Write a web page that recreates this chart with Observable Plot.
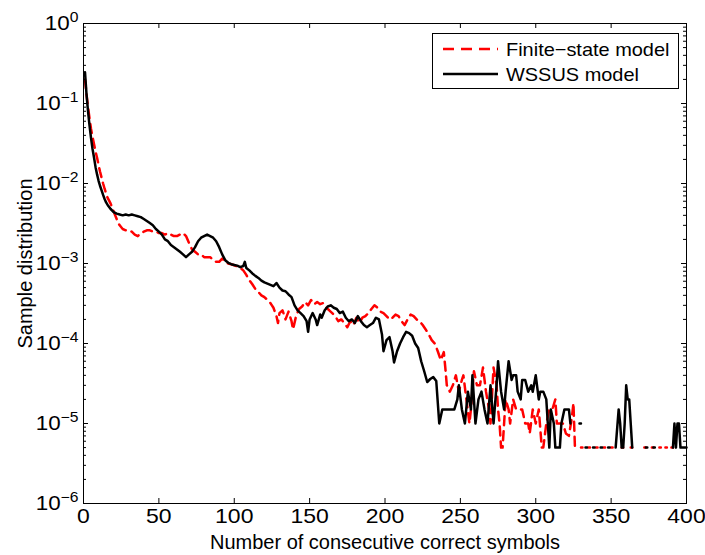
<!DOCTYPE html>
<html><head><meta charset="utf-8">
<script src="https://cdn.jsdelivr.net/npm/d3@7"></script>
<script src="https://cdn.jsdelivr.net/npm/@observablehq/plot@0.6"></script>
<style>body{margin:0;background:#fff}#chart{width:705px;height:555px}</style>
</head><body><div id="chart"></div>
<script>
// ---- data (x = number of consecutive correct symbols, y = sample distribution; null = zero / gap)
const wssus = [
[1,0.245],[2,0.13],[3,0.08],[4,0.053],[5,0.037],[6,0.027],[7,0.021],[8,0.016],[9,0.013],[10,0.0108],
[11,0.0093],[12,0.0082],[13,0.0072],[14,0.0064],[15,0.0058],[16,0.0054],[18,0.0048],[20,0.0044],[22,0.0042],[24,0.0041],
[26,0.0040],[28,0.0041],[30,0.0040],[32,0.0041],[34,0.0040],[36,0.0039],[38,0.0038],[40,0.0036],[42,0.0034],[44,0.0032],
[46,0.0030],[48,0.0027],[50,0.0025],[52,0.0023],[54,0.0020],[56,0.0019],[58,0.0017],[60,0.0016],[62,0.0015],[64,0.0014],
[66,0.0013],[68,0.0012],[70,0.0013],[72,0.0014],[74,0.0016],[76,0.0019],[78,0.0021],[80,0.0022],[82,0.0023],[84,0.0022],
[86,0.0021],[88,0.0019],[90,0.0016],[92,0.0013],[94,0.0011],[96,0.00102],[98,0.00098],[100,0.00096],[102,0.00094],[104,0.0009],
[106,0.00093],[107,0.00105],[108,0.00088],[110,0.00082],[112,0.00075],[114,0.0007],[116,0.00066],[118,0.00061],[120,0.00058],[122,0.00056],
[124,0.00054],[126,0.00052],[128,0.00057],[130,0.0005],[132,0.00046],[134,0.00045],[136,0.00041],[138,0.00038],[140,0.0003],[142,0.00026],
[144,0.00024],[146,0.00022],[148,0.00019],[149,0.00014],[150,0.0002],[152,0.00024],[154,0.0002],[155,0.00017],[157,0.00023],[158,0.00021],
[160,0.00026],[162,0.00029],[164,0.0003],[166,0.00028],[168,0.00027],[170,0.00024],[172,0.00025],[174,0.00021],[176,0.00019],[178,0.0002],
[180,0.00018],[182,0.00022],[184,0.00019],[186,0.00017],[188,0.00016],[190,0.00017],[192,0.00018],[194,0.00021],[196,0.0002],[198,0.00013],
[199,0.00008],[201,0.00011],[203,0.00012],[205,0.00008],[206,0.000058],[208,0.00008],[210,0.0001],[212,0.00012],[214,0.00014],[216,0.000135],
[218,0.000125],[220,0.0001],[222,0.000088],[224,0.00006],[226,0.000045],[228,0.000033],[230,0.000036],[232,0.000038],[234,0.000034],[236,0.00001],
[238,0.000015],[240,0.000015],[242,0.000015],[244,0.000015],[246,0.000015],[248,0.00002],[249,0.00003],[251,0.000015],[253,0.00001],[255,0.000025],
[257,0.000015],[258,0.00004],[260,0.00001],[262,0.00002],[264,0.000025],[266,0.000015],[268,0.00001],[270,0.00003],[272,0.00001],[274,0.00003],
[275,0.00006],[277,0.000025],[279,0.000015],[280,0.000025],[282,0.00006],[284,0.000035],[285,0.00004],[287,0.00004],[288,0.000025],[290,0.00002],
[291,0.000035],[293,0.000035],[295,0.000025],[297,0.00003],[298,0.000025],[300,0.00004],[302,0.00002],[303,0.000025],[305,0.000025],[307,0.00002],
[308,0.00001],[309,0.000005],[310,0.000015],[312,0.00001],[313,0.000005],[315,0.000005],[316,0.000005],[317,0.00001],[319,0.000015],[320,0.000015],
[322,0.000015],[323,0.00001],[324,null],[329,0.00001],[330,0.00001],[331,null],[333,0.000005],[334,0.000005],[335,null],[338,0.000005],
[339,0.000005],[340,null],[343,0.000005],[344,0.000005],[345,null],[348,0.000005],[349,0.000005],[350,null],[353,0.000005],[355,0.000015],
[356,0.00001],[357,0.000005],[358,0.000005],[359,0.00001],[360,0.00003],[361,0.00002],[362,0.00002],[363,0.00001],[364,0.000005],[365,null],
[373,0.000005],[374,0.000005],[375,null],[378,0.000005],[379,0.000005],[380,null],[391,0.000005],[392,0.00001],[393,0.000005],[394,0.00001],
[395,0.00001],[396,0.000005],[398,0.000005],[400,0.000005]
];
const finiteState = [
[1,0.2],[2,0.13],[3,0.09],[4,0.065],[5,0.048],[6,0.038],[7,0.031],[8,0.025],[9,0.021],[10,0.017],
[11,0.014],[12,0.0118],[13,0.01],[14,0.0086],[15,0.0075],[16,0.0066],[17,0.0061],[18,0.0056],[19,0.005],[20,0.0045],
[21,0.004],[22,0.0036],[23,0.0032],[24,0.003],[26,0.0027],[28,0.0026],[30,0.0026],[32,0.0025],[34,0.0023],[36,0.0022],
[38,0.0024],[40,0.0025],[42,0.0026],[44,0.0026],[46,0.0025],[48,0.0025],[50,0.0024],[52,0.0024],[54,0.0023],[56,0.0024],
[58,0.0023],[60,0.0022],[62,0.0022],[64,0.0023],[66,0.0024],[68,0.0022],[70,0.0018],[72,0.0015],[74,0.0014],[76,0.0013],
[78,0.0013],[80,0.0012],[82,0.0012],[84,0.0012],[86,0.0011],[88,0.00105],[90,0.00105],[92,0.00115],[94,0.00105],[96,0.001],
[98,0.00098],[100,0.00095],[102,0.00092],[104,0.00088],[106,0.00082],[108,0.00072],[110,0.00062],[112,0.00055],[114,0.00048],[116,0.00044],
[118,0.0004],[120,0.00038],[122,0.00035],[124,0.00032],[126,0.00028],[128,0.00022],[129,0.00018],[130,0.00024],[132,0.00026],[134,0.0002],
[136,0.00025],[138,0.00019],[139,0.00015],[141,0.00022],[143,0.00027],[145,0.00029],[147,0.00033],[149,0.0003],[151,0.00035],[153,0.00031],
[155,0.00033],[157,0.00031],[159,0.00032],[161,0.00028],[163,0.00026],[165,0.00024],[167,0.00022],[169,0.00019],[171,0.0002],[173,0.00018],
[175,0.00016],[177,0.00019],[179,0.00017],[181,0.00021],[183,0.00018],[185,0.00021],[187,0.00022],[189,0.00024],[191,0.00027],[193,0.0003],
[195,0.00028],[197,0.00025],[199,0.00024],[201,0.00022],[203,0.0002],[205,0.00021],[207,0.00023],[209,0.00022],[211,0.00019],[213,0.00017],
[215,0.0002],[217,0.00023],[219,0.00022],[221,0.0002],[223,0.00019],[225,0.00017],[227,0.00015],[229,0.00013],[231,0.00011],[233,0.0001],
[235,0.00008],[237,0.000062],[239,0.000078],[240,0.00005],[241,0.00003],[243,0.000025],[245,0.00003],[247,0.00004],[249,0.000025],[251,0.000035],
[252,0.00004],[254,0.00002],[256,0.00001],[257,0.000015],[259,0.000045],[261,0.00003],[263,0.00003],[265,0.00005],[267,0.000025],[269,0.000015],
[270,0.00001],[272,0.00005],[274,0.00003],[275,0.000015],[276,0.00001],[277,0.000005],[278,0.000005],[280,0.00002],[282,0.000015],[283,0.00001],
[285,0.00002],[287,0.000015],[288,0.000015],[290,0.000015],[291,0.000015],[293,0.00001],[295,0.00001],[296,0.0000075],[298,0.000015],[300,0.00001],
[302,0.000015],[304,0.000005],[305,0.000005],[307,0.00001],[309,0.000015],[311,0.000015],[313,0.00002],[314,0.00001],[316,0.00001],[318,0.00001],
[320,0.0000075],[322,0.000007],[324,0.000012],[325,0.000018],[326,0.000005],[327,0.000005],[328,null],[330,0.000005],[331,0.000005],[332,null],
[335,0.000005],[336,0.000005],[337,null],[340,0.000005],[341,0.000005],[342,null],[345,0.000005],[346,0.000005],[347,null],[350,0.000005],
[351,0.000005],[352,null],[357,0.000005],[358,0.000005],[359,null],[363,0.000005],[364,0.000005],[365,null],[372,0.000005],[373,0.000005],
[374,null],[377,0.000005],[378,0.000005],[379,null],[382,0.000005],[383,0.000005],[384,null],[386,0.000005],[387,0.000005],[388,null],
[390,0.000005],[391,0.000005],[392,null]
];
const seriesNames = ["Finite−state model", "WSSUS model"];
const xTicks = [0, 50, 100, 150, 200, 250, 300, 350, 400];
const yMajor = [1e-6, 1e-5, 1e-4, 1e-3, 1e-2, 1e-1, 1];
const yMinorMantissas = [2, 3, 4, 5, 6, 7, 8, 9];
const xLabel = "Number of consecutive correct symbols";
const yLabel = "Sample distribution";

// ---- layout
const W = 705, H = 555, mL = 83, mR = 19, mT = 23, mB = 52;
const fw = W - mL - mR, fh = H - mT - mB;
const yMinor = yMajor.slice(0, -1).flatMap(d => yMinorMantissas.map(m => m * d));
const toRows = arr => arr.map(([x, y]) => ({x, y}));
const fsRows = toRows(finiteState), wsRows = toRows(wssus);
const FONT = "'Liberation Sans', Arial, Helvetica, sans-serif";

const svg = Plot.plot({
  width: W, height: H, marginLeft: mL, marginRight: mR, marginTop: mT, marginBottom: mB,
  style: {fontFamily: FONT, fontSize: "20px", color: "black", background: "white", overflow: "visible"},
  x: {domain: [0, 400]},
  y: {type: "log", domain: [1e-6, 1]},
  marks: [
    Plot.line(fsRows, {x: "x", y: "y", stroke: "#ff0000", strokeWidth: 2.5, strokeDasharray: "9,6"}),
    Plot.line(wsRows, {x: "x", y: "y", stroke: "black", strokeWidth: 2.5}),
    Plot.ruleX(xTicks, {x: d => d, insetBottom: fh - 5, stroke: "black"}),
    Plot.ruleX(xTicks, {x: d => d, insetTop: fh - 5, stroke: "black"}),
    Plot.ruleY(yMajor, {y: d => d, insetRight: fw - 5, stroke: "black"}),
    Plot.ruleY(yMajor, {y: d => d, insetLeft: fw - 5, stroke: "black"}),
    Plot.ruleY(yMinor, {y: d => d, insetRight: fw - 3, stroke: "black"}),
    Plot.ruleY(yMinor, {y: d => d, insetLeft: fw - 3, stroke: "black"}),
    Plot.axisX({ticks: xTicks, tickSize: 0, tickPadding: 5, label: null, tickFormat: d => String(d)}),
    Plot.axisY({ticks: yMajor, tickSize: 0, tickPadding: 5, label: null,
      tickFormat: d => "10^" + Math.round(Math.log10(d))}),
    Plot.text([xLabel], {text: d => d, frameAnchor: "bottom", textAnchor: "middle", lineAnchor: "middle",
      dy: 39, fill: "black", ariaLabel: "x-title"}),
    Plot.text([yLabel], {text: d => d, frameAnchor: "left", textAnchor: "middle", lineAnchor: "middle",
      rotate: -90, dx: -58, fill: "black", ariaLabel: "y-title"}),
    Plot.frame({stroke: "black", strokeWidth: 1})
  ]
});
document.getElementById("chart").appendChild(svg);

// horizontal stretch around each text's own anchor
function stretch(el, k) {
  let t = el.getAttribute("transform");
  if (!t) {
    const x = +el.getAttribute("x") || 0, y = +el.getAttribute("y") || 0;
    el.removeAttribute("x"); el.removeAttribute("y");
    t = `translate(${x},${y})`;
  }
  el.setAttribute("transform", t + ` scale(${k},1)`);
}

// superscript exponents on y tick labels
svg.querySelectorAll('g[aria-label="y-axis tick label"] text').forEach(el => {
  const parts = el.textContent.split("^");
  if (parts.length < 2) return;
  const e = parts[1].replace("-", "−");
  const sel = d3.select(el);
  sel.text(parts[0]);
  sel.append("tspan").attr("dy", "-0.6em").attr("font-size", "0.7em").text(e);
  stretch(el, 1.12);
});
svg.querySelectorAll('g[aria-label="x-axis tick label"] text').forEach(el => stretch(el, 1.15));
svg.querySelectorAll('g[aria-label="x-title"] text').forEach(el => stretch(el, 1.12));
svg.querySelectorAll('g[aria-label="y-title"] text').forEach(el => stretch(el, 1.1));

// legend inside the axes
const lg = d3.select(svg).append("g").attr("font-family", FONT).attr("font-size", "19px")
  .attr("text-anchor", "start");
lg.append("rect").attr("x", 432.5).attr("y", 33.5).attr("width", 246).attr("height", 55)
  .attr("fill", "white").attr("stroke", "black");
const legendStyles = [{stroke: "#ff0000", dash: "11,7"}, {stroke: "black", dash: null}];
seriesNames.forEach((name, i) => {
  const y = 49 + i * 25;
  lg.append("line").attr("x1", 443).attr("x2", 498).attr("y1", y).attr("y2", y)
    .attr("stroke", legendStyles[i].stroke).attr("stroke-width", 2.5)
    .attr("stroke-dasharray", legendStyles[i].dash);
  lg.append("text").attr("transform", `translate(506,${y}) scale(1.05,1)`).attr("dy", "0.35em")
    .attr("fill", "black").text(name);
});
</script>
</body></html>
